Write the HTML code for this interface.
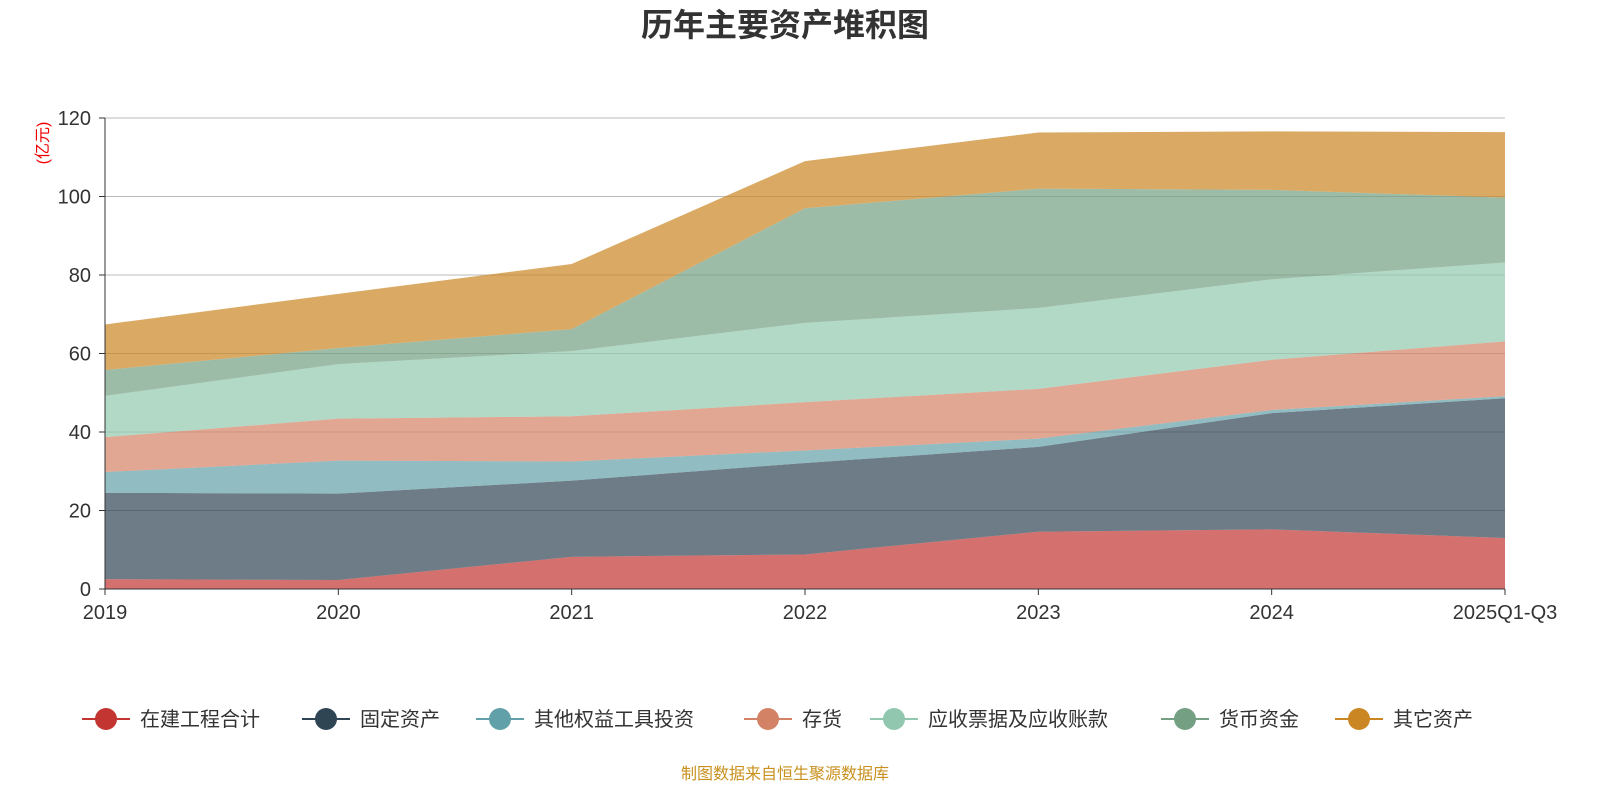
<!DOCTYPE html>
<html><head><meta charset="utf-8"><style>
body{margin:0;background:#fff;width:1600px;height:800px;overflow:hidden;font-family:"Liberation Sans","Noto Sans CJK SC",sans-serif}
</style></head><body>
<svg id="chart" width="1600" height="800" xmlns="http://www.w3.org/2000/svg" font-family="Liberation Sans, Noto Sans CJK SC, sans-serif">
<text x="785" y="36" text-anchor="middle" font-size="32" font-weight="bold" fill="#333">历年主要资产堆积图</text>
<text transform="translate(48,143) rotate(-90)" text-anchor="middle" font-size="16" fill="#e00">(亿元)</text>
<g id="grid"></g><g id="areas"></g><g id="axes"></g><g id="legend"></g>
<text x="785" y="779" text-anchor="middle" font-size="16" fill="#c8901e">制图数据来自恒生聚源数据库</text>
</svg>
<script>
const categories=["2019","2020","2021","2022","2023","2024","2025Q1-Q3"];
const seriesNames=["在建工程合计","固定资产","其他权益工具投资","存货","应收票据及应收账款","货币资金","其它资产"];
const s1=[2.5,2.3,8.2,8.8,14.6,15.2,13];
const s2=[22,22,19.4,23.3,21.6,29.6,35.6];
const s3=[5.3,8.4,4.9,3.2,2.1,0.8,0.5];
const s4=[8.9,10.7,11.5,12.3,12.7,12.8,14];
const s5=[10.5,13.9,16.6,20.2,20.6,20.5,20.1];
const s6=[6.6,4.1,5.6,29.2,30.4,22.8,16.5];
const s7=[11.6,13.8,16.6,12,14.3,14.9,16.7];
const yTicks=[0,20,40,60,80,100,120];
const series=[s1,s2,s3,s4,s5,s6,s7];
const colors=["#c23531","#2f4554","#61a0a8","#d48265","#91c7ae","#749f83","#ca8622"];
const NS="http://www.w3.org/2000/svg";
const x0=105,x1=1505,y0=589,y1=118;
const xs=i=>x0+(x1-x0)*i/(categories.length-1);
const ys=v=>y0-(y0-y1)*v/120;
function mk(t,a,p){const e=document.createElementNS(NS,t);for(const k in a)e.setAttribute(k,a[k]);p.appendChild(e);return e;}
const grid=document.getElementById('grid'),axes=document.getElementById('axes'),areas=document.getElementById('areas'),leg=document.getElementById('legend');
yTicks.forEach(v=>{
 if(v>0){const l=mk('line',{x1:x0,x2:x1,y1:ys(v),y2:ys(v),stroke:'#bbb','stroke-width':1},grid);
 
 }
 const t=mk('text',{x:x0-14,y:ys(v)+7,'text-anchor':'end','font-size':20,fill:'#333'},axes);t.textContent=v;
 
 
 mk('line',{x1:x0-6,x2:x0,y1:ys(v),y2:ys(v),stroke:'#333'},axes);
});
let base=categories.map(()=>0);
series.forEach((s,k)=>{
 const top=base.map((b,i)=>b+s[i]);
 let d='M'+top.map((v,i)=>xs(i)+','+ys(v)).join('L');
 for(let i=categories.length-1;i>=0;i--)d+='L'+xs(i)+','+ys(base[i]);
 const p=mk('path',{d:d+'Z',fill:colors[k],'fill-opacity':0.7,stroke:'none'},areas);
 
 
 base=top;
});
mk('line',{x1:x0,x2:x0,y1:y1,y2:y0,stroke:'#333'},axes);
mk('line',{x1:x0,x2:x1,y1:y0,y2:y0,stroke:'#333'},axes);
categories.forEach((c,i)=>{
 mk('line',{x1:xs(i),x2:xs(i),y1:y0,y2:y0+6,stroke:'#333'},axes);
 const t=mk('text',{x:xs(i),y:y0+30,'text-anchor':'middle','font-size':20,fill:'#333'},axes);t.textContent=c;
 
 
});
const lx=[82,302,476,744,870,1161,1335];
seriesNames.forEach((n,k)=>{
 const g=mk('g',{},leg);
 
 
 mk('line',{x1:lx[k],x2:lx[k]+48,y1:719,y2:719,stroke:colors[k],'stroke-width':2},g);
 mk('circle',{cx:lx[k]+24,cy:719,r:11,fill:colors[k]},g);
 const t=mk('text',{x:lx[k]+58,y:726,'font-size':20,fill:'#333'},g);t.textContent=n;
});
</script>
</body></html>
